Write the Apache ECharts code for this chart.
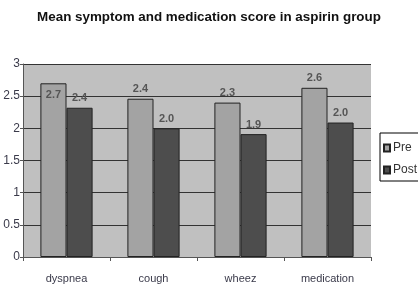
<!DOCTYPE html>
<html>
<head>
<meta charset="utf-8">
<script src="https://cdn.jsdelivr.net/npm/echarts@6/dist/echarts.min.js"></script>
<style>
html,body{margin:0;padding:0;background:#fff;}
#c{width:418px;height:297px;}
</style>
</head>
<body>
<div id="c"></div>
<script>
const categories = ['dyspnea', 'cough', 'wheez', 'medication'];
const preValues = [2.70, 2.46, 2.40, 2.63];
const postValues = [2.32, 2.00, 1.91, 2.09];
const preLabels = ['2.7', '2.4', '2.3', '2.6'];
const postLabels = ['2.4', '2.0', '1.9', '2.0'];
const yTicks = ['0', '0.5', '1', '1.5', '2', '2.5', '3'];

const chart = echarts.init(document.getElementById('c'), null, {renderer: 'canvas'});

const labelStyle = {
  show: true,
  position: 'top',
  distance: 4,
  fontFamily: 'Liberation Sans',
  fontSize: 11,
  fontWeight: 'bold',
  color: '#555'
};

const preData = preValues.map((v, i) => {
  const item = {value: v};
  if (i === 0) item.label = {position: 'insideTop', distance: 6};
  return item;
});

chart.setOption({
  animation: false,
  title: {
    text: 'Mean symptom and medication score in aspirin group',
    left: 204,
    textAlign: 'center',
    top: 6,
    textStyle: {fontFamily: 'Liberation Sans', fontSize: 13.4, fontWeight: 'bold', color: '#111'}
  },
  legend: {
    orient: 'vertical',
    left: 380,
    top: 133,
    itemWidth: 6,
    itemHeight: 7,
    itemGap: 10,
    padding: [9, 8, 5, 3],
    borderColor: '#000',
    borderWidth: 1,
    backgroundColor: '#fff',
    icon: 'rect',
    textStyle: {fontFamily: 'Liberation Sans', fontSize: 12, color: '#333', padding: [0, 0, 0, -2]},
    data: ['Pre', 'Post']
  },
  grid: {left: 23, right: 47, top: 64, bottom: 40, show: true, backgroundColor: '#c0c0c0', borderWidth: 0},
  xAxis: {
    type: 'category',
    data: categories,
    axisLine: {lineStyle: {color: '#555', width: 1}},
    axisTick: {show: true, length: 4, lineStyle: {color: '#555'}},
    axisLabel: {margin: 16, fontFamily: 'Liberation Sans', fontSize: 11, color: '#3a3a4a'}
  },
  yAxis: {
    type: 'value',
    min: 0,
    max: 3,
    interval: 0.5,
    axisLine: {show: true, lineStyle: {color: '#555', width: 1}},
    axisTick: {show: true, length: 3, lineStyle: {color: '#555'}},
    axisLabel: {
      margin: 3,
      fontFamily: 'Liberation Sans',
      fontSize: 12,
      color: '#3a3a4a',
      formatter: (v) => yTicks[Math.round(v / 0.5)]
    },
    splitLine: {show: true, lineStyle: {color: '#333', width: 1}}
  },
  series: [
    {
      name: 'Pre',
      type: 'bar',
      data: preData,
      barGap: '0%',
      barCategoryGap: '40%',
      itemStyle: {color: '#a3a3a3', borderColor: '#222', borderWidth: 1},
      label: Object.assign({}, labelStyle, {formatter: (p) => preLabels[p.dataIndex]})
    },
    {
      name: 'Post',
      type: 'bar',
      data: postValues,
      barGap: '0%',
      barCategoryGap: '40%',
      itemStyle: {color: '#4d4d4d', borderColor: '#222', borderWidth: 1},
      label: Object.assign({}, labelStyle, {formatter: (p) => postLabels[p.dataIndex]})
    }
  ]
});
</script>
</body>
</html>
